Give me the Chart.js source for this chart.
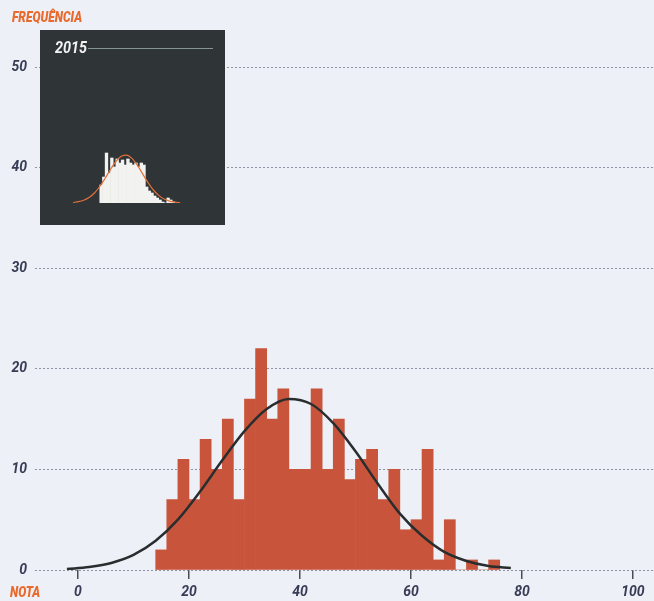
<!DOCTYPE html>
<html>
<head>
<meta charset="utf-8">
<script src="https://cdn.jsdelivr.net/npm/chart.js@4.4.1/dist/chart.umd.min.js"></script>
<style>
  html, body { margin: 0; padding: 0; background: #edf0f7; }
  #wrap { position: relative; width: 654px; height: 601px; overflow: hidden; }
  #mainChart { position: absolute; left: 0; top: 0; }
  .lbl {
    position: absolute;
    font-family: Roboto, "Liberation Sans", sans-serif;
    font-style: italic;
    font-weight: 900;
    font-size: 15px;
    line-height: 15px;
    color: #e96a2c;
    transform-origin: left center;
    transform: scaleX(0.8);
    white-space: nowrap;
  }
  #inset {
    position: absolute; left: 40px; top: 30px; width: 185px; height: 195px;
    background: #2f3437;
  }
  #insetYear {
    position: absolute; left: 15px; top: 10px;
    font-family: Roboto, "Liberation Sans", sans-serif;
    font-style: italic; font-weight: bold; font-size: 16px; line-height: 16px;
    color: #f2f2f2; transform-origin: left center; transform: scaleX(0.9);
  }
  #insetRule { position: absolute; left: 48px; top: 18px; width: 125px; height: 1px; background: #85948f; }
  #miniChart { position: absolute; left: 33px; top: 110px; }
</style>
</head>
<body>
<div id="wrap">
  <canvas id="mainChart" width="654" height="601"></canvas>
  <div class="lbl" style="left:12px; top:10px;">FREQUÊNCIA</div>
  <div class="lbl" style="left:10px; top:585px;">NOTA</div>
  <div id="inset">
    <div id="insetYear">2015</div>
    <div id="insetRule"></div>
    <canvas id="miniChart" width="112" height="63"></canvas>
  </div>
</div>
<script>
// 分布データ(2点刻みのビン中心と度数)
const binCenters = [15, 17, 19, 21, 23, 25, 27, 29, 31, 33, 35, 37, 39, 41, 43, 45,
  47, 49, 51, 53, 55, 57, 59, 61, 63, 65, 67, 69, 71, 73, 75];
const binCounts = [2, 7, 11, 7, 13, 10, 15, 7, 17, 22, 15, 18, 10, 10, 18, 10,
  15, 9, 11, 12, 7, 10, 4, 5, 12, 1, 5, 0, 1, 0, 1];

// 正規曲線
const curveX = [-2, 2, 6, 10, 14, 18, 22, 26, 30, 34, 38, 42, 46, 50, 54, 58, 62, 66, 70, 74, 78];
const curveY = [0.1, 0.3, 0.7, 1.5, 2.9, 5.0, 7.8, 10.9, 13.8, 16.0, 17.0, 16.5, 14.6, 11.8,
  8.6, 5.6, 3.4, 1.8, 0.9, 0.4, 0.2];

// 軸の目盛り
const xTicks = [0, 20, 40, 60, 80, 100];
const yTicks = [0, 10, 20, 30, 40, 50];

// 2015年の小さいグラフ
const miniCenters = [19, 21, 23, 25, 27, 29, 31, 33, 35, 37, 39, 41, 43, 45, 47, 49,
  51, 53, 55, 57, 59, 61, 63, 65, 67, 69, 71, 73];
const miniCounts = [18, 26, 50, 30, 45, 36, 44, 40, 43, 38, 44, 40, 38, 40, 36, 40,
  38, 16, 12, 10, 7, 5, 3, 1, 0, 5, 3, 1];
const miniCurveX = [-2, 2, 6, 10, 14, 18, 22, 26, 30, 34, 38, 42, 46, 50, 54, 58, 62, 66, 70, 74, 78];
const miniCurveY = [0.5, 1.3, 2.8, 5.5, 10, 16.5, 24.7, 33.6, 41.5, 46.7, 47.9, 44.6, 37.8,
  29.1, 20.4, 13, 7.6, 4, 1.9, 0.8, 0.3];

const tickFont = { family: "Roboto, 'Liberation Sans', sans-serif", size: 14, style: "italic", weight: "bold" };
const tickColor = "#383c55";

function toPoints(xs, ys) {
  return xs.map((x, i) => ({ x: x, y: ys[i] }));
}

// メインのグラフ
new Chart(document.getElementById("mainChart"), {
  type: "bar",
  data: {
    datasets: [
      {
        type: "line",
        data: toPoints(curveX, curveY),
        borderColor: "#2a2d2e",
        borderWidth: 2.5,
        pointRadius: 0,
        fill: false,
        cubicInterpolationMode: "monotone",
        order: 0,
      },
      {
        type: "bar",
        data: toPoints(binCenters, binCounts),
        backgroundColor: "#c8553b",
        borderWidth: 0,
        barPercentage: 1,
        categoryPercentage: 1,
        order: 1,
      },
    ],
  },
  options: {
    responsive: false,
    animation: false,
    devicePixelRatio: 1,
    layout: { padding: { top: 67, left: 0, right: 0, bottom: 0 } },
    plugins: { legend: { display: false }, tooltip: { enabled: false } },
    scales: {
      x: {
        type: "linear",
        min: -7.75,
        max: 103.8,
        offset: false,
        afterBuildTicks: (scale) => { scale.ticks = xTicks.map((v) => ({ value: v })); },
        afterFit: (scale) => { scale.height = 31; },
        grid: {
          display: true,
          offset: false,
          drawOnChartArea: false,
          drawTicks: true,
          tickLength: 9,
          color: "#4a4d55",
          lineWidth: 1.5,
        },
        border: { display: false },
        ticks: { font: tickFont, color: tickColor, padding: 5, maxRotation: 0 },
      },
      y: {
        min: 0,
        max: 50,
        afterBuildTicks: (scale) => { scale.ticks = yTicks.map((v) => ({ value: v })); },
        afterFit: (scale) => { scale.width = 35; },
        grid: {
          drawTicks: false,
          color: "rgba(110, 115, 135, 0.75)",
          lineWidth: 1,
        },
        // v4では border.dash がグリッド線の点線になる
        border: { display: false, dash: [2, 2] },
        ticks: { font: tickFont, color: tickColor, padding: 8 },
      },
    },
  },
});

// 2015年の挿入グラフ
new Chart(document.getElementById("miniChart"), {
  type: "bar",
  data: {
    datasets: [
      {
        type: "line",
        data: toPoints(miniCurveX, miniCurveY),
        borderColor: "#e0703a",
        borderWidth: 1.2,
        pointRadius: 0,
        fill: false,
        cubicInterpolationMode: "monotone",
        order: 0,
      },
      {
        type: "bar",
        data: toPoints(miniCenters, miniCounts),
        backgroundColor: "#f2f2f0",
        borderWidth: 0,
        barPercentage: 1,
        categoryPercentage: 1,
        order: 1,
      },
    ],
  },
  options: {
    responsive: false,
    animation: false,
    devicePixelRatio: 1,
    layout: { padding: 0 },
    plugins: { legend: { display: false }, tooltip: { enabled: false } },
    scales: {
      x: { type: "linear", min: -2, max: 81.6, offset: false, display: false },
      y: { min: 0, max: 63, display: false },
    },
  },
});
</script>
</body>
</html>
